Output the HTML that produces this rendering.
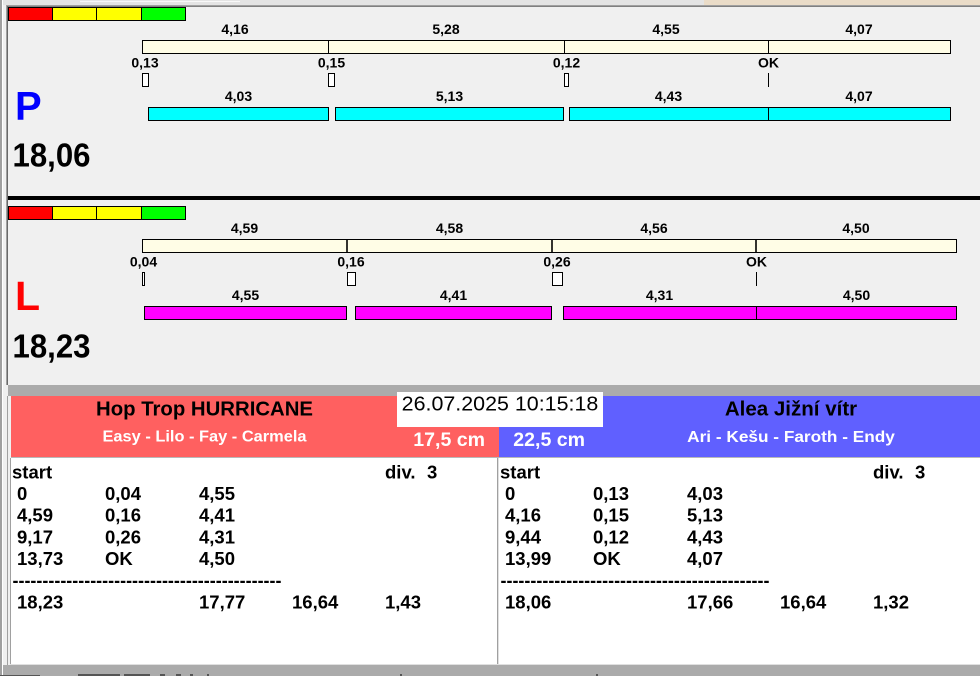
<!DOCTYPE html>
<html>
<head>
<meta charset="utf-8">
<style>
  html, body { margin: 0; padding: 0; background: #f0f0f0; }
  svg { display: block; }
  text { font-family: "Liberation Sans", Arial, sans-serif; }
  .b14 { font-size: 14px; font-weight: bold; fill: #000; }
  .tb { font-size: 18.5px; font-weight: bold; fill: #000; }
</style>
</head>
<body>
<svg width="980" height="676" viewBox="0 0 980 676" xmlns="http://www.w3.org/2000/svg">
  <!-- background -->
  <rect x="0" y="0" width="980" height="676" fill="#f0f0f0"/>
  <!-- top strip -->
  <rect x="0" y="0" width="980" height="5" fill="#e4e4e4"/>
  <rect x="80" y="1" width="160" height="1" fill="#f8f8f8"/>
  <rect x="704" y="0" width="276" height="5" fill="#eadcc8"/>
  <rect x="6" y="5" width="974" height="1" fill="#a0a0a0"/>
  <rect x="7" y="6" width="973" height="1" fill="#808080"/>
  <!-- left frame -->
  <rect x="0" y="0" width="2" height="676" fill="#a0a0a0"/>
  <rect x="2" y="0" width="1" height="676" fill="#ffffff"/>
  <rect x="6" y="5" width="1" height="380" fill="#a0a0a0"/>
  <rect x="7" y="6" width="1" height="379" fill="#696969"/>

  <!-- ============ PANEL P ============ -->
  <g stroke="#000" stroke-width="1">
    <rect x="8.5" y="7.5" width="44" height="13" fill="#ff0000"/>
    <rect x="52.5" y="7.5" width="44" height="13" fill="#ffff00"/>
    <rect x="96.5" y="7.5" width="45" height="13" fill="#ffff00"/>
    <rect x="141.5" y="7.5" width="44" height="13" fill="#00ff00"/>
  </g>
  <!-- top cream bar -->
  <g stroke="#000" stroke-width="1">
    <rect x="142.5" y="40.5" width="808" height="13" fill="#fffde6"/>
    <line x1="328.5" y1="40" x2="328.5" y2="54"/>
    <line x1="564.5" y1="40" x2="564.5" y2="54"/>
    <line x1="768.5" y1="40" x2="768.5" y2="54"/>
  </g>
  <text class="b14" x="235" y="34" text-anchor="middle">4,16</text>
  <text class="b14" x="446" y="34" text-anchor="middle">5,28</text>
  <text class="b14" x="666" y="34" text-anchor="middle">4,55</text>
  <text class="b14" x="859" y="34" text-anchor="middle">4,07</text>
  <!-- gaps -->
  <text class="b14" x="145" y="67.5" text-anchor="middle">0,13</text>
  <text class="b14" x="331.5" y="67.5" text-anchor="middle">0,15</text>
  <text class="b14" x="566.5" y="67.5" text-anchor="middle">0,12</text>
  <text class="b14" x="768.5" y="67.5" text-anchor="middle">OK</text>
  <g stroke="#000" stroke-width="1" fill="#ffffff">
    <rect x="142.5" y="73.5" width="6" height="13"/>
    <rect x="328.5" y="73.5" width="6" height="13"/>
    <rect x="564.5" y="73.5" width="4" height="13"/>
    <line x1="768.5" y1="73" x2="768.5" y2="87"/>
  </g>
  <!-- cyan bars -->
  <g stroke="#000" stroke-width="1" fill="#00ffff">
    <rect x="148.5" y="107.5" width="180" height="13"/>
    <rect x="335.5" y="107.5" width="228" height="13"/>
    <rect x="569.5" y="107.5" width="199" height="13"/>
    <rect x="768.5" y="107.5" width="182" height="13"/>
  </g>
  <text class="b14" x="238.5" y="101" text-anchor="middle">4,03</text>
  <text class="b14" x="449.5" y="101" text-anchor="middle">5,13</text>
  <text class="b14" x="668.5" y="101" text-anchor="middle">4,43</text>
  <text class="b14" x="859" y="101" text-anchor="middle">4,07</text>
  <text x="15" y="119.3" font-size="40" font-weight="bold" fill="#0000ff">P</text>
  <text x="12.5" y="166.7" font-size="33" font-weight="bold" fill="#000" textLength="78" lengthAdjust="spacingAndGlyphs">18,06</text>

  <!-- separator -->
  <rect x="8" y="196" width="972" height="4" fill="#000"/>

  <!-- ============ PANEL L ============ -->
  <g stroke="#000" stroke-width="1">
    <rect x="8.5" y="206.5" width="44" height="13" fill="#ff0000"/>
    <rect x="52.5" y="206.5" width="44" height="13" fill="#ffff00"/>
    <rect x="96.5" y="206.5" width="45" height="13" fill="#ffff00"/>
    <rect x="141.5" y="206.5" width="44" height="13" fill="#00ff00"/>
  </g>
  <g stroke="#000">
    <rect x="142.5" y="239.5" width="814" height="13" fill="#fffde6" stroke-width="1"/>
    <line x1="347" y1="239" x2="347" y2="253" stroke-width="1.6"/>
    <line x1="552" y1="239" x2="552" y2="253" stroke-width="1.6"/>
    <line x1="756" y1="239" x2="756" y2="253" stroke-width="1.6"/>
  </g>
  <text class="b14" x="244.5" y="233" text-anchor="middle">4,59</text>
  <text class="b14" x="449.5" y="233" text-anchor="middle">4,58</text>
  <text class="b14" x="654" y="233" text-anchor="middle">4,56</text>
  <text class="b14" x="856" y="233" text-anchor="middle">4,50</text>
  <text class="b14" x="143.5" y="266.5" text-anchor="middle">0,04</text>
  <text class="b14" x="351" y="266.5" text-anchor="middle">0,16</text>
  <text class="b14" x="557" y="266.5" text-anchor="middle">0,26</text>
  <text class="b14" x="756.5" y="266.5" text-anchor="middle">OK</text>
  <g stroke="#000" stroke-width="1" fill="#ffffff">
    <rect x="142.5" y="272.5" width="2" height="13"/>
    <rect x="347.5" y="272.5" width="8" height="13"/>
    <rect x="552.5" y="272.5" width="10" height="13"/>
    <line x1="756.5" y1="272" x2="756.5" y2="286"/>
  </g>
  <g stroke="#000" stroke-width="1" fill="#ff00ff">
    <rect x="144.5" y="306.5" width="202" height="13"/>
    <rect x="355.5" y="306.5" width="196" height="13"/>
    <rect x="563.5" y="306.5" width="193" height="13"/>
    <rect x="756.5" y="306.5" width="200" height="13"/>
  </g>
  <text class="b14" x="245.5" y="300" text-anchor="middle">4,55</text>
  <text class="b14" x="453.5" y="300" text-anchor="middle">4,41</text>
  <text class="b14" x="659.5" y="300" text-anchor="middle">4,31</text>
  <text class="b14" x="856.5" y="300" text-anchor="middle">4,50</text>
  <text x="15" y="310" font-size="41" font-weight="bold" fill="#ff0000">L</text>
  <text x="12.5" y="357.3" font-size="33" font-weight="bold" fill="#000" textLength="78" lengthAdjust="spacingAndGlyphs">18,23</text>

  <!-- gray band -->
  <rect x="8" y="385" width="972" height="11" fill="#ababab"/>

  <!-- headers -->
  <rect x="11" y="396" width="488" height="61" fill="#ff6060"/>
  <rect x="499" y="396" width="481" height="61" fill="#6060ff"/>
  <rect x="7" y="396" width="1" height="269" fill="#a0a0a0"/>
  <rect x="397" y="392" width="206" height="35" fill="#ffffff"/>
  <text x="401.7" y="410.7" font-size="20" fill="#000" textLength="196.6" lengthAdjust="spacingAndGlyphs">26.07.2025 10:15:18</text>

  <text x="204.5" y="415.5" font-size="20" font-weight="bold" fill="#000" text-anchor="middle" textLength="217" lengthAdjust="spacingAndGlyphs">Hop Trop HURRICANE</text>
  <text x="204.5" y="441.5" font-size="16" font-weight="bold" fill="#ffffff" text-anchor="middle" textLength="204" lengthAdjust="spacingAndGlyphs">Easy - Lilo - Fay - Carmela</text>
  <text x="413.3" y="446" font-size="19" font-weight="bold" fill="#ffffff" textLength="71.7" lengthAdjust="spacingAndGlyphs">17,5 cm</text>

  <text x="791" y="415.7" font-size="20" font-weight="bold" fill="#000" text-anchor="middle" textLength="132.3" lengthAdjust="spacingAndGlyphs">Alea Jižní vítr</text>
  <text x="791" y="442" font-size="16" font-weight="bold" fill="#ffffff" text-anchor="middle" textLength="207.7" lengthAdjust="spacingAndGlyphs">Ari - Kešu - Faroth - Endy</text>
  <text x="513.3" y="446" font-size="19" font-weight="bold" fill="#ffffff" textLength="71.7" lengthAdjust="spacingAndGlyphs">22,5 cm</text>

  <!-- tables -->
  <rect x="11" y="457" width="969" height="1" fill="#b8b8b8"/>
  <rect x="11" y="458" width="969" height="206" fill="#ffffff"/>
  <rect x="10" y="458" width="1" height="207" fill="#a0a0a0"/>
  <rect x="497" y="458" width="1" height="207" fill="#a0a0a0"/>
  <rect x="498" y="458" width="1" height="207" fill="#e0e0e0"/>
  <rect x="10" y="664" width="970" height="1" fill="#e0e0e0"/>
  <rect x="3" y="665" width="977" height="11" fill="#ababab"/>
  <!-- partial cut-off text at bottom -->
  <g fill="#555">
    <rect x="0" y="675" width="40" height="1"/>
    <rect x="78" y="674" width="42" height="2"/>
    <rect x="124" y="674" width="26" height="2"/>
    <rect x="160" y="674" width="5" height="2"/>
    <rect x="176" y="674" width="5" height="2"/>
    <rect x="190" y="674" width="3" height="2"/>
    <rect x="207" y="674" width="2" height="2"/>
    <rect x="400" y="674" width="2" height="2"/>
    <rect x="596" y="674" width="2" height="2"/>
  </g>

  <!-- left table -->
  <text class="tb" x="12" y="478.3">start</text>
  <text class="tb" x="385" y="478.3">div.</text>
  <text class="tb" x="427" y="478.3">3</text>

  <text class="tb" x="17" y="500">0</text>
  <text class="tb" x="105" y="500">0,04</text>
  <text class="tb" x="199" y="500">4,55</text>

  <text class="tb" x="17" y="521.7">4,59</text>
  <text class="tb" x="105" y="521.7">0,16</text>
  <text class="tb" x="199" y="521.7">4,41</text>

  <text class="tb" x="17" y="543.3">9,17</text>
  <text class="tb" x="105" y="543.3">0,26</text>
  <text class="tb" x="199" y="543.3">4,31</text>

  <text class="tb" x="17" y="565">13,73</text>
  <text class="tb" x="105" y="565">OK</text>
  <text class="tb" x="199" y="565">4,50</text>

  <text class="tb" x="12.5" y="586.7" textLength="269" lengthAdjust="spacingAndGlyphs">---------------------------------------------</text>

  <text class="tb" x="17" y="608.4">18,23</text>
  <text class="tb" x="199" y="608.4">17,77</text>
  <text class="tb" x="292" y="608.4">16,64</text>
  <text class="tb" x="385" y="608.4">1,43</text>

  <!-- right table -->
  <text class="tb" x="500" y="478.3">start</text>
  <text class="tb" x="873" y="478.3">div.</text>
  <text class="tb" x="915" y="478.3">3</text>

  <text class="tb" x="505" y="500">0</text>
  <text class="tb" x="593" y="500">0,13</text>
  <text class="tb" x="687" y="500">4,03</text>

  <text class="tb" x="505" y="521.7">4,16</text>
  <text class="tb" x="593" y="521.7">0,15</text>
  <text class="tb" x="687" y="521.7">5,13</text>

  <text class="tb" x="505" y="543.3">9,44</text>
  <text class="tb" x="593" y="543.3">0,12</text>
  <text class="tb" x="687" y="543.3">4,43</text>

  <text class="tb" x="505" y="565">13,99</text>
  <text class="tb" x="593" y="565">OK</text>
  <text class="tb" x="687" y="565">4,07</text>

  <text class="tb" x="500.5" y="586.7" textLength="269" lengthAdjust="spacingAndGlyphs">---------------------------------------------</text>

  <text class="tb" x="505" y="608.4">18,06</text>
  <text class="tb" x="687" y="608.4">17,66</text>
  <text class="tb" x="780" y="608.4">16,64</text>
  <text class="tb" x="873" y="608.4">1,32</text>
</svg>
</body>
</html>
